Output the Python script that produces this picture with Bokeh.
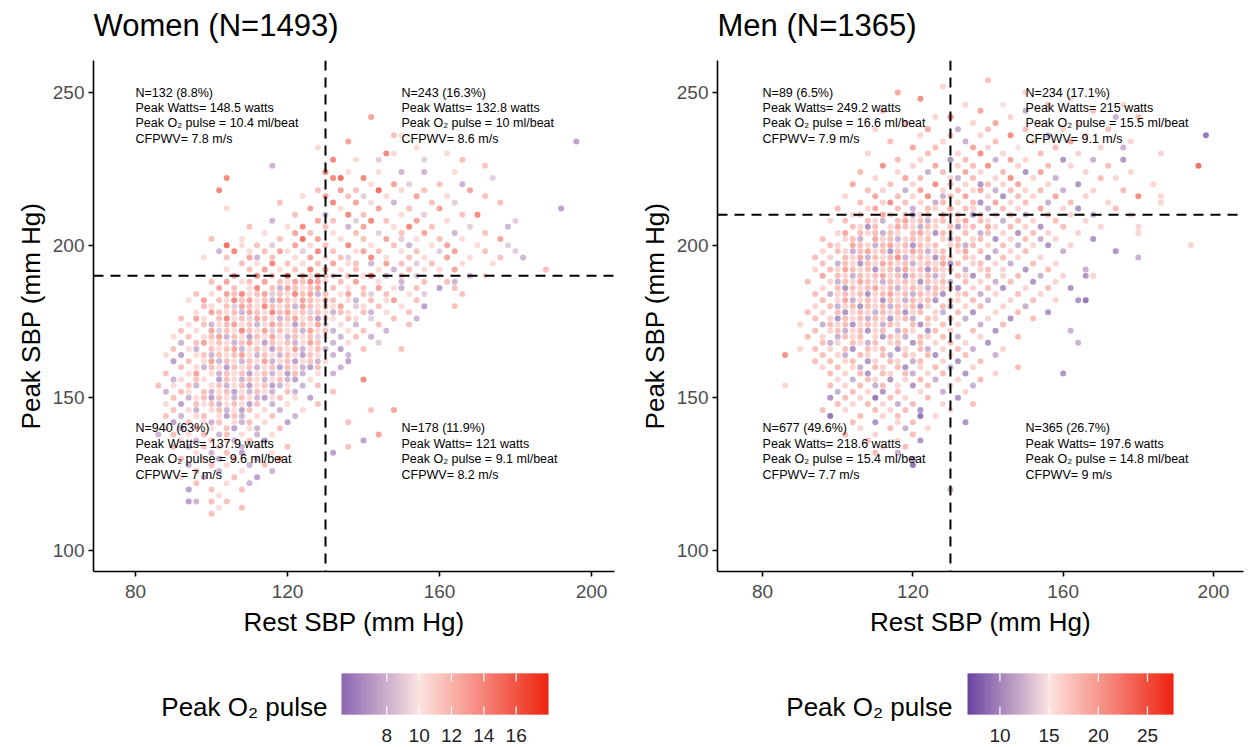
from bokeh.plotting import figure
from bokeh.models import Range1d, LinearColorMapper, Span, ColumnDataSource, FixedTicker
from bokeh.layouts import row, column
from bokeh.embed import file_html
from bokeh.resources import INLINE
from bokeh.core.properties import value

FONT = "Liberation Sans"

# ---------------- data ----------------
# Each entry: (peak SBP, first rest SBP, codes); code k at position i -> rest = first + 2*i,
# '.' = no point, digit = Peak O2 pulse level index
women_levels = [5.5, 5.5, 6.2, 7.2, 8.5, 10.8, 12.3, 14, 15.5, 17]
women_rows = [
    (242, 142, "7"),
    (236, 148, "65"),
    (234, 136, "7"), (234, 196, "2"),
    (232, 128, "5"), (232, 154, "5"),
    (230, 146, "85......5"),
    (228, 132, "8..5..4.....4....6"),
    (226, 116, "3"), (226, 172, "6"),
    (224, 130, "8..5...5..3..3...5"),
    (222, 104, "8"), (222, 132, "89..8"), (222, 174, "4"),
    (220, 142, "5..7.4...6..3"),
    (218, 102, "8"), (218, 128, "6..7.6..9..5..6.....7"),
    (216, 124, "5..7..6.4..5...7...5....6"),
    (214, 118, "6......8..7.5..3....6..4.....6"),
    (212, 104, "5"), (212, 126, "7...5....7...6...7"), (212, 192, "2"),
    (210, 122, "6...3..8.6....5..4....6.8"),
    (208, 116, "3.....7.6..4.8.6...7...5"), (208, 180, "4"),
    (206, 110, "6....5.8..6..3.7...5.8..6....4....3"),
    (204, 114, "5...7.6..5..6..4..6..7...3...6"),
    (202, 100, "6...5....6..9.7..5..6..7.4.5..6..5....7"),
    (200, 104, "9.5.6.4..7.5.6..8..5..6.3..5.7...5...4"),
    (198, 102, "3.8.5.6.75.4.8.6..57.6..5.6..4.7...6...4"),
    (196, 98, "5..6..73.6..5.7.5.64..8.5..6.5..7..5...6..3"),
    (194, 108, "6.5.8.6.5.6.7.56.3.7.6.4.6...5...5"),
    (192, 104, "5..6.7.5.6.8.7.5.6..5.3.6.5.5.7"), (192, 188, "6"),
    (190, 106, "7..8.6.9.75864.6.59.3.6.4..5...3.5"),
    (188, 100, "6.7.56.7.6576875.6.7..5..3..6..63"),
    (186, 102, "7.6.58.6376567.6.5.6.7.53.6..2.6"),
    (184, 96, "6.5.76856746586736.57.64.6..5.4....6"),
    (182, 94, "5.7.6586756376576576.53.6.57..6"),
    (180, 98, "65.6476586563765657.45.6..5..2...6"),
    (178, 96, "5.7656376586756465365.63.5..6"),
    (176, 92, "6.75.6856476536756265.65.4..6..3"),
    (174, 94, "5.63567563576526574.5.3..6...6"),
    (172, 92, "6.5.74658657465637563.5.6..3"),
    (170, 90, "5.6.56736526575365645.3.6.3"),
    (168, 92, "3.67565367526563576.3.5...4"),
    (166, 90, "6.53.6567356526573563.2..6....6"),
    (164, 88, "5.2.56365675365365265.3.3"),
    (162, 90, "2.6.57365365735625635..2"),
    (160, 92, "6.53652656356265326..3"),
    (158, 88, "6..57.5365625635263.5.3"),
    (156, 90, "35.65.26536535632.5......8"),
    (154, 86, "6.5.63.56356256235.3.6"),
    (152, 88, "3.65.6356253653.63....6"),
    (150, 90, "6.3562653653256.5.2"),
    (148, 88, "5.2.656356526.3.5...6"),
    (146, 90, "6.53.563526.5.3..5"), (146, 142, "6..7"),
    (144, 88, "6.3.56.5263.5.6..3"),
    (142, 90, "2.6.536.536.5..2"), (142, 136, "6"),
    (140, 88, "5.3.6.5.62.53..6"),
    (138, 86, "3.6.5.6.36.5.3.5"), (138, 144, "7"),
    (136, 92, "5.3.6.53.6.2"), (136, 140, "2"),
    (134, 90, "6.3.6.5..3.5...6"), (134, 136, "6"),
    (132, 96, "5.3.6.2...5"), (132, 132, "2"),
    (130, 92, "6..5.2.6..3..8"),
    (128, 94, "3..6.5..3.6"),
    (126, 96, "6..3..5...3"),
    (124, 92, "5..3...6..2"),
    (122, 96, "6...5..3"),
    (120, 94, "2..6...6"),
    (118, 102, "5"),
    (116, 94, "23.6.6"),
    (114, 102, "5..6"),
    (112, 100, "6"),
]

men_levels = [7, 7, 9, 11, 14.5, 17, 19, 21, 23, 26]
men_rows = [
    (254, 140, "6"),
    (252, 128, "5"),
    (250, 116, "7"), (250, 150, "5"),
    (248, 122, "8"), (248, 162, "5"),
    (246, 134, "5....4.....6.........5"),
    (244, 112, "6"), (244, 138, "7.....3........6"),
    (242, 126, "5.8.......5.............3..6"),
    (240, 118, "6........5..7.....5....4"),
    (238, 110, "5......7...3...6....6....5.....6"),
    (236, 122, "5...6...5...8....3....5"), (236, 198, "1"),
    (234, 114, "6......5..3...6....5....7.......5"),
    (232, 120, "7..6....7.5...4....6.....5..3"),
    (230, 108, "5.......6...5..8..5....6....5"), (230, 186, "5"),
    (228, 116, "6..5...2.6...3.7.5....2...3...2"),
    (226, 112, "8...5..7..5.6.8...5...6..5....6"), (226, 196, "9"),
    (224, 106, "6....5...3.6..7.5..6..2.7.....5.....5"),
    (222, 110, "5...7.6...53.6..5.8..5..3.....6.5"),
    (220, 104, "7....6..5..8.6.5.26.5.7...5...2"), (220, 184, "5"),
    (218, 108, "6.5..3.7..5.6.57.3.6.5.6..3...5...6"),
    (216, 102, "5...7..6.5.8.36.7..5.2.6.5..7...5......8..5"),
    (214, 106, "6..58.6.5.36.5.62.7.5.6..3..6....5"), (214, 186, "5"),
    (212, 100, "6...57..6.3.65.7.65.3.6.5..7..5.2....6"),
    (210, 104, "56..75.6256.756.26.5.6.3..6..5..3....5"),
    (208, 98, "5.6..653.6756356.57.65.3.6.5..6...5"),
    (206, 104, "6526.5765365.6256.75.6.5.2..6....5....5"),
    (204, 100, "57.656365.675265.6.36.5.2.6.5...5"), (204, 180, "5"),
    (202, 96, "6..563.75635656.536.56.2.5.6.3.5....2"),
    (200, 98, "65.765367562656.5636.5.6.3.5.2..5"), (200, 194, "5"),
    (198, 96, "5.653675626576356.57.6.3.5.6....3......2"),
    (196, 94, "6.5.657365683565265.65.2.6.5..5"), (196, 180, "3"),
    (194, 96, "6.36526576563565726.56.5.3..6..5"),
    (192, 94, "5.65765625637562656.3.56.5..2..6....3"),
    (190, 96, "7.653656756265635.652.6.5.6..3..5..25"),
    (188, 92, "6..53657653656526563.6.5.3.6..2..5"),
    (186, 96, "5.62656756356536562.5.6.2..5..6..2"),
    (184, 94, "6.3565625675636562.56.3.5..6..5"),
    (182, 96, "6.57356526536562.65.6.3..5..6..5..21"),
    (180, 94, "5.63562656365625.63.5.6..5..3"),
    (178, 92, "6.5.625653656256.53.6.2..5..6...2"),
    (176, 94, "6.526563652563.65.6.3..5..2..6"),
    (174, 90, "5..36562565365.625.6.5..3..6"),
    (172, 94, "6.56356256.365.26.5..6..2"), (172, 162, "3"),
    (170, 92, "6.5.3656.52653.65.6.3..5....6"),
    (168, 96, "635.6536.56.26.5.6.5..2"), (168, 164, "3"),
    (166, 90, "5.6.5.62.656.25.63.5.6.3...5"),
    (164, 86, "8"), (164, 96, "6.53.65.63.65.62.5.6...3"),
    (162, 94, "6.6.56.25.65.36..5.2..6"),
    (160, 96, "5.6.53.65.62.5.6.3..5.....6"),
    (158, 98, "6.5.62.65.63.5.6..2...5"), (158, 160, "2"),
    (156, 100, "5.3.65.2.5.6.3..5..6"),
    (154, 86, "5"), (154, 98, "6.5.6.36.5.2.6..5..3"),
    (152, 100, "3.6.5.2.6..5..3..5"),
    (150, 98, "2.6.5.1.6.5..6...2"),
    (148, 100, "6.5.6.5.3.6...5...6"),
    (146, 96, "6..5...6.5.6.2...5"),
    (144, 98, "1...6..5.6..1.5"),
    (142, 104, "6..2..5.6......2"),
    (140, 106, "5...6.3..5"),
    (138, 102, "6...5....6"),
    (136, 108, "6...5..2"),
    (134, 112, "5..6"),
    (132, 110, "6..3"),
    (130, 120, "2"),
    (128, 120, "1"),
    (120, 130, "3"),
]

x_ticks = [80, 120, 160, 200]
y_ticks = [100, 150, 200, 250]

women_title = "Women (N=1493)"
men_title = "Men (N=1365)"
rest_cut = 130
women_peak_cut = 190
men_peak_cut = 210

women_text = [
    (80, 250, ["N=132 (8.8%)", "Peak Watts= 148.5 watts", "Peak O\u2082 pulse = 10.4 ml/beat", "CFPWV= 7.8 m/s"]),
    (150, 250, ["N=243 (16.3%)", "Peak Watts= 132.8 watts", "Peak O\u2082 pulse = 10 ml/beat", "CFPWV= 8.6 m/s"]),
    (80, 140, ["N=940 (63%)", "Peak Watts= 137.9 watts", "Peak O\u2082 pulse = 9.6 ml/beat", "CFPWV= 7 m/s"]),
    (150, 140, ["N=178 (11.9%)", "Peak Watts= 121 watts", "Peak O\u2082 pulse = 9.1 ml/beat", "CFPWV= 8.2 m/s"]),
]
men_text = [
    (80, 250, ["N=89 (6.5%)", "Peak Watts= 249.2 watts", "Peak O\u2082 pulse = 16.6 ml/beat", "CFPWV= 7.9 m/s"]),
    (150, 250, ["N=234 (17.1%)", "Peak Watts= 215 watts", "Peak O\u2082 pulse = 15.5 ml/beat", "CFPWV= 9.1 m/s"]),
    (80, 140, ["N=677 (49.6%)", "Peak Watts= 218.6 watts", "Peak O\u2082 pulse = 15.4 ml/beat", "CFPWV= 7.7 m/s"]),
    (150, 140, ["N=365 (26.7%)", "Peak Watts= 197.6 watts", "Peak O\u2082 pulse = 14.8 ml/beat", "CFPWV= 9 m/s"]),
]

women_cb = dict(lo=5.2, mid=10.0, hi=18.0, c_lo="#8b65b1", c_mid="#fce3e0", c_hi="#ee2410",
                ticks=[8, 10, 12, 14, 16])
men_cb = dict(lo=6.7, mid=15.0, hi=27.65, c_lo="#6a43a0", c_mid="#fce3e0", c_hi="#ee2410",
              ticks=[10, 15, 20, 25])
cb_title = "Peak O\u2082 pulse"


# ---------------- helpers ----------------
def expand(rows, levels):
    xs, ys, cs = [], [], []
    for peak, rest0, codes in rows:
        for k, ch in enumerate(codes):
            if ch != ".":
                xs.append(rest0 + 2 * k)
                ys.append(peak)
                cs.append(levels[int(ch)])
    return xs, ys, cs


def hex2rgb(h):
    h = h.lstrip("#")
    return [int(h[i:i + 2], 16) for i in (0, 2, 4)]


def color_at(v, cb):
    lo, mid, hi = cb["lo"], cb["mid"], cb["hi"]
    v = min(max(v, lo), hi)
    if v <= mid:
        t = (v - lo) / (mid - lo)
        a, b = hex2rgb(cb["c_lo"]), hex2rgb(cb["c_mid"])
    else:
        t = (v - mid) / (hi - mid)
        a, b = hex2rgb(cb["c_mid"]), hex2rgb(cb["c_hi"])
    return "#%02x%02x%02x" % tuple(int(round(a[i] + (b[i] - a[i]) * t)) for i in range(3))


def make_palette(cb, n=256):
    return [color_at(cb["lo"] + (cb["hi"] - cb["lo"]) * (k + 0.5) / n, cb) for k in range(n)]


def bare_figure(width, height, frame_x):
    # frames in a column are aligned with the panel's frame, so x is in page pixels of that frame
    p = figure(width=width, height=height, x_range=Range1d(*frame_x), y_range=Range1d(height, 0),
               toolbar_location=None, output_backend="svg", min_border=0,
               x_axis_type=None, y_axis_type=None)
    p.outline_line_color = None
    p.grid.visible = False
    return p


def title_fig(text, width, height, frame_x):
    p = bare_figure(width, height, frame_x)
    p.text(x=[frame_x[0]], y=[25], text=[text], text_font=value(FONT), text_font_size="31px",
           text_color="black", text_align="left", text_baseline="middle")
    return p


def panel(rows, levels, cb, xr, yr, width, height, left, right, top, bottom, hcut, texts):
    xs, ys, cs = expand(rows, levels)
    mapper = LinearColorMapper(palette=make_palette(cb), low=cb["lo"], high=cb["hi"])
    p = figure(width=width, height=height, x_range=Range1d(*xr), y_range=Range1d(*yr),
               toolbar_location=None, output_backend="svg",
               min_border_left=left, min_border_right=right,
               min_border_top=top, min_border_bottom=bottom)
    p.outline_line_color = None
    p.grid.visible = False
    p.background_fill_color = "white"
    p.border_fill_color = "white"

    src = ColumnDataSource(dict(x=xs, y=ys, o2=cs))
    p.scatter(x="x", y="y", source=src, size=6, line_color=None, fill_alpha=0.72,
              fill_color={"field": "o2", "transform": mapper})

    p.add_layout(Span(location=rest_cut, dimension="height", line_color="black",
                      line_width=2, line_dash="10 7"))
    p.add_layout(Span(location=hcut, dimension="width", line_color="black",
                      line_width=2, line_dash="10 7"))

    tx, ty, tt, dy = [], [], [], []
    offsets = [0, 15.5, 30.5, 46.5]
    for x0, y0, lines in texts:
        for off, line in zip(offsets, lines):
            tx.append(x0); ty.append(y0); tt.append(line); dy.append(off)
    tsrc = ColumnDataSource(dict(x=tx, y=ty, text=tt, dy=dy))
    p.text(x="x", y="y", text="text", y_offset="dy", source=tsrc,
           text_font=value(FONT), text_font_size="12.5px", text_color="black",
           text_align="left", text_baseline="middle")

    for ax in (p.xaxis[0], p.yaxis[0]):
        ax.axis_line_width = 1.6
        ax.axis_line_color = "black"
        ax.major_tick_line_color = "black"
        ax.major_tick_line_width = 1.6
        ax.major_tick_out = 5
        ax.major_tick_in = 0
        ax.minor_tick_line_color = None
        ax.major_label_text_font = FONT
        ax.major_label_text_font_size = "19px"
        ax.major_label_text_color = "#4d4d4d"
        ax.axis_label_text_font = FONT
        ax.axis_label_text_font_size = "26px"
        ax.axis_label_text_font_style = "normal"
        ax.axis_label_text_color = "black"
    p.xaxis.ticker = FixedTicker(ticks=x_ticks)
    p.yaxis.ticker = FixedTicker(ticks=y_ticks)
    p.xaxis.axis_label = "Rest SBP (mm Hg)"
    p.yaxis.axis_label = "Peak SBP (mm Hg)"
    p.xaxis.major_label_standoff = 8
    p.xaxis.axis_label_standoff = 6
    p.yaxis.major_label_standoff = 4
    p.yaxis.axis_label_standoff = 4
    return p


def colorbar(cb, width, height, frame_x, bar_l, bar_r, bar_t, bar_b, label_right, title_y, tick_y):
    p = bare_figure(width, height, frame_x)
    n = 160
    step = (bar_r - bar_l) / n
    lefts = [bar_l + step * k for k in range(n)]
    rights = [min(bar_l + step * (k + 1) + 0.9, bar_r) for k in range(n)]
    cols = [color_at(cb["lo"] + (cb["hi"] - cb["lo"]) * (k + 0.5) / n, cb) for k in range(n)]
    p.quad(left=lefts, right=rights, top=bar_t, bottom=bar_b, fill_color=cols, line_color=None)
    tpx = [bar_l + (t - cb["lo"]) / (cb["hi"] - cb["lo"]) * (bar_r - bar_l) for t in cb["ticks"]]
    p.segment(x0=tpx, x1=tpx, y0=bar_t, y1=bar_t + 8, line_color="white", line_width=1.2)
    p.segment(x0=tpx, x1=tpx, y0=bar_b - 8, y1=bar_b, line_color="white", line_width=1.2)
    p.text(x=tpx, y=[tick_y] * len(tpx), text=[str(t) for t in cb["ticks"]],
           text_font=value(FONT), text_font_size="19px", text_color="#222222",
           text_align="center", text_baseline="middle")
    p.text(x=[label_right], y=[title_y], text=[cb_title], text_font=value(FONT),
           text_font_size="26px", text_color="black", text_align="right", text_baseline="middle")
    return p


# ---------------- build ----------------
TITLE_H = 52
MAIN_H = 588
CB_H = 105
W_FRAME = (93, 614)
M_FRAME = (717, 1243)

tw = title_fig(women_title, 628, TITLE_H, W_FRAME)
tm = title_fig(men_title, 622, TITLE_H, M_FRAME)

pw = panel(women_rows, women_levels, women_cb, (68.95, 206.05), (93.1, 260.5),
           628, MAIN_H, 93, 14, 8, 69, women_peak_cut, women_text)
pm = panel(men_rows, men_levels, men_cb, (68.0, 208.0), (93.1, 260.5),
           622, MAIN_H, 89, 7, 8, 69, men_peak_cut, men_text)

cw = colorbar(women_cb, 628, CB_H, W_FRAME, 341, 548, 33, 74, 327, 66, 95)
cm = colorbar(men_cb, 622, CB_H, M_FRAME, 967, 1173, 33, 74, 952, 66, 95)

layout = row(column(tw, pw, cw), column(tm, pm, cm))

with open("out.html", "w") as f:
    f.write(file_html(layout, INLINE))
